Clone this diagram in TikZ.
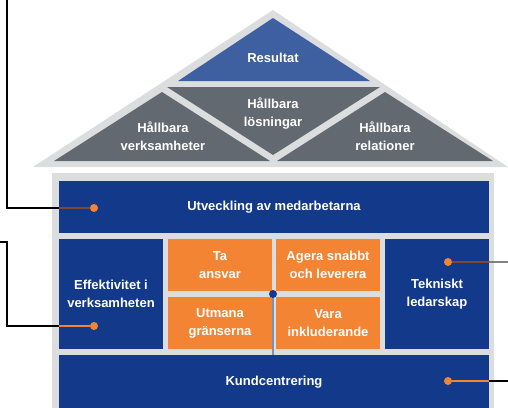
\documentclass[tikz,border=0pt]{standalone}
\usepackage{fontspec}
\setmainfont{Liberation Sans}
\usetikzlibrary{positioning}

\definecolor{hblue}{HTML}{133A8A}
\definecolor{rblue}{HTML}{3F60A0}
\definecolor{rgray}{HTML}{636971}
\definecolor{lgray}{HTML}{DCDDDF}
\definecolor{horange}{HTML}{F28434}
\definecolor{hbrown}{HTML}{7A4A35}

\begin{document}
\begin{tikzpicture}[
	x=1pt, y=-1pt,
	mybox/.style = {
		fill=hblue, rectangle, align=center, text=white,
		font=\fontsize{13}{18}\selectfont\bfseries,
		inner sep=0pt, outer sep=0pt, anchor=north west},
	myfield/.style = {mybox, fill=horange},
	mylabel/.style = {
		align=center, text=white, inner sep=0pt,
		font=\fontsize{13}{18}\selectfont\bfseries},
	mydot/.style = {circle, fill=horange, inner sep=0pt, minimum size=8pt},
	lead/.style = {line width=1.2pt},
]
\useasboundingbox (0,0) rectangle (508,407);
\clip (0,0) rectangle (508,407);

% roof
\fill[lgray] (273,10) -- (508,167) -- (33,167) -- cycle;
\fill[rblue] (273,18) -- (370,81) -- (178,81) -- cycle;
\fill[rgray] (167,87) -- (380,87) -- (273,155) -- cycle;
\fill[rgray] (162,92) -- (270,161) -- (54,161) -- cycle;
\fill[rgray] (385,92) -- (493,161) -- (277,161) -- cycle;

\node (res) [mylabel] at (273,58)   {Resultat};
\node (hl)  [mylabel] at (273,114)  {Hållbara\\lösningar};
\node (hv)  [mylabel] at (163,136)  {Hållbara\\verksamheter};
\node (hr)  [mylabel] at (385,136)  {Hållbara\\relationer};

% house
\fill[lgray] (52,173) rectangle (494,410);

\node (utv) [mybox, minimum width=430pt, minimum height=52pt]
	at (59,181) {Utveckling av medarbetarna};
\node (eff) [mybox, minimum width=104pt, minimum height=110pt]
	at (59,239) {Effektivitet i\\verksamheten};
\node (tek) [mybox, minimum width=104pt, minimum height=110pt]
	at (385,239) {Tekniskt\\ledarskap};
\node (kund) [mybox, minimum width=430pt, minimum height=54pt]
	at (59,355) {Kundcentrering};

\node (ta)  [myfield, minimum width=104pt, minimum height=52pt]
	at (168,239) {Ta\\ansvar};
\node (ag)  [myfield, minimum width=104pt, minimum height=52pt]
	at (276,239) {Agera snabbt\\och leverera};
\node (ut)  [myfield, minimum width=104pt, minimum height=52pt]
	at (168,297) {Utmana\\gränserna};
\node (va)  [myfield, minimum width=104pt, minimum height=52pt]
	at (276,297) {Vara\\inkluderande};

% centre point
\coordinate (mc) at (273,294);
\draw[line width=1.5pt, color=rblue!70] (mc) -- (mc |- kund.north);
\node (mid) [mydot, fill=hblue] at (mc) {};

% call-outs
\coordinate (c1) at (7,0);
\coordinate (c2) at (0,242);
\coordinate (c3) at (508,262);
\coordinate (c4) at (508,381);

\draw[lead, black] (c1) |- (94,208 -| eff.west) coordinate (e1);
\draw[lead, black] (c2) -| (7,326) |- (eff.west |- 0,326) coordinate (e2);
\draw[lead, gray] (c3) -- (tek.east |- 0,262) coordinate (e3);
\draw[lead, black] (c4) -- (tek.east |- 0,381) coordinate (e4);

\node (d1) [mydot] at (94,208) {};
\node (d2) [mydot] at (94,326) {};
\node (d3) [mydot] at (448,262) {};
\node (d4) [mydot] at (448,381) {};

\draw[lead, hbrown] (e1) -- (d1);
\draw[lead, horange] (e2) -- (d2);
\draw[lead, hbrown] (e3) -- (d3);
\draw[lead, horange] (e4) -- (d4);
\end{tikzpicture}
\end{document}
